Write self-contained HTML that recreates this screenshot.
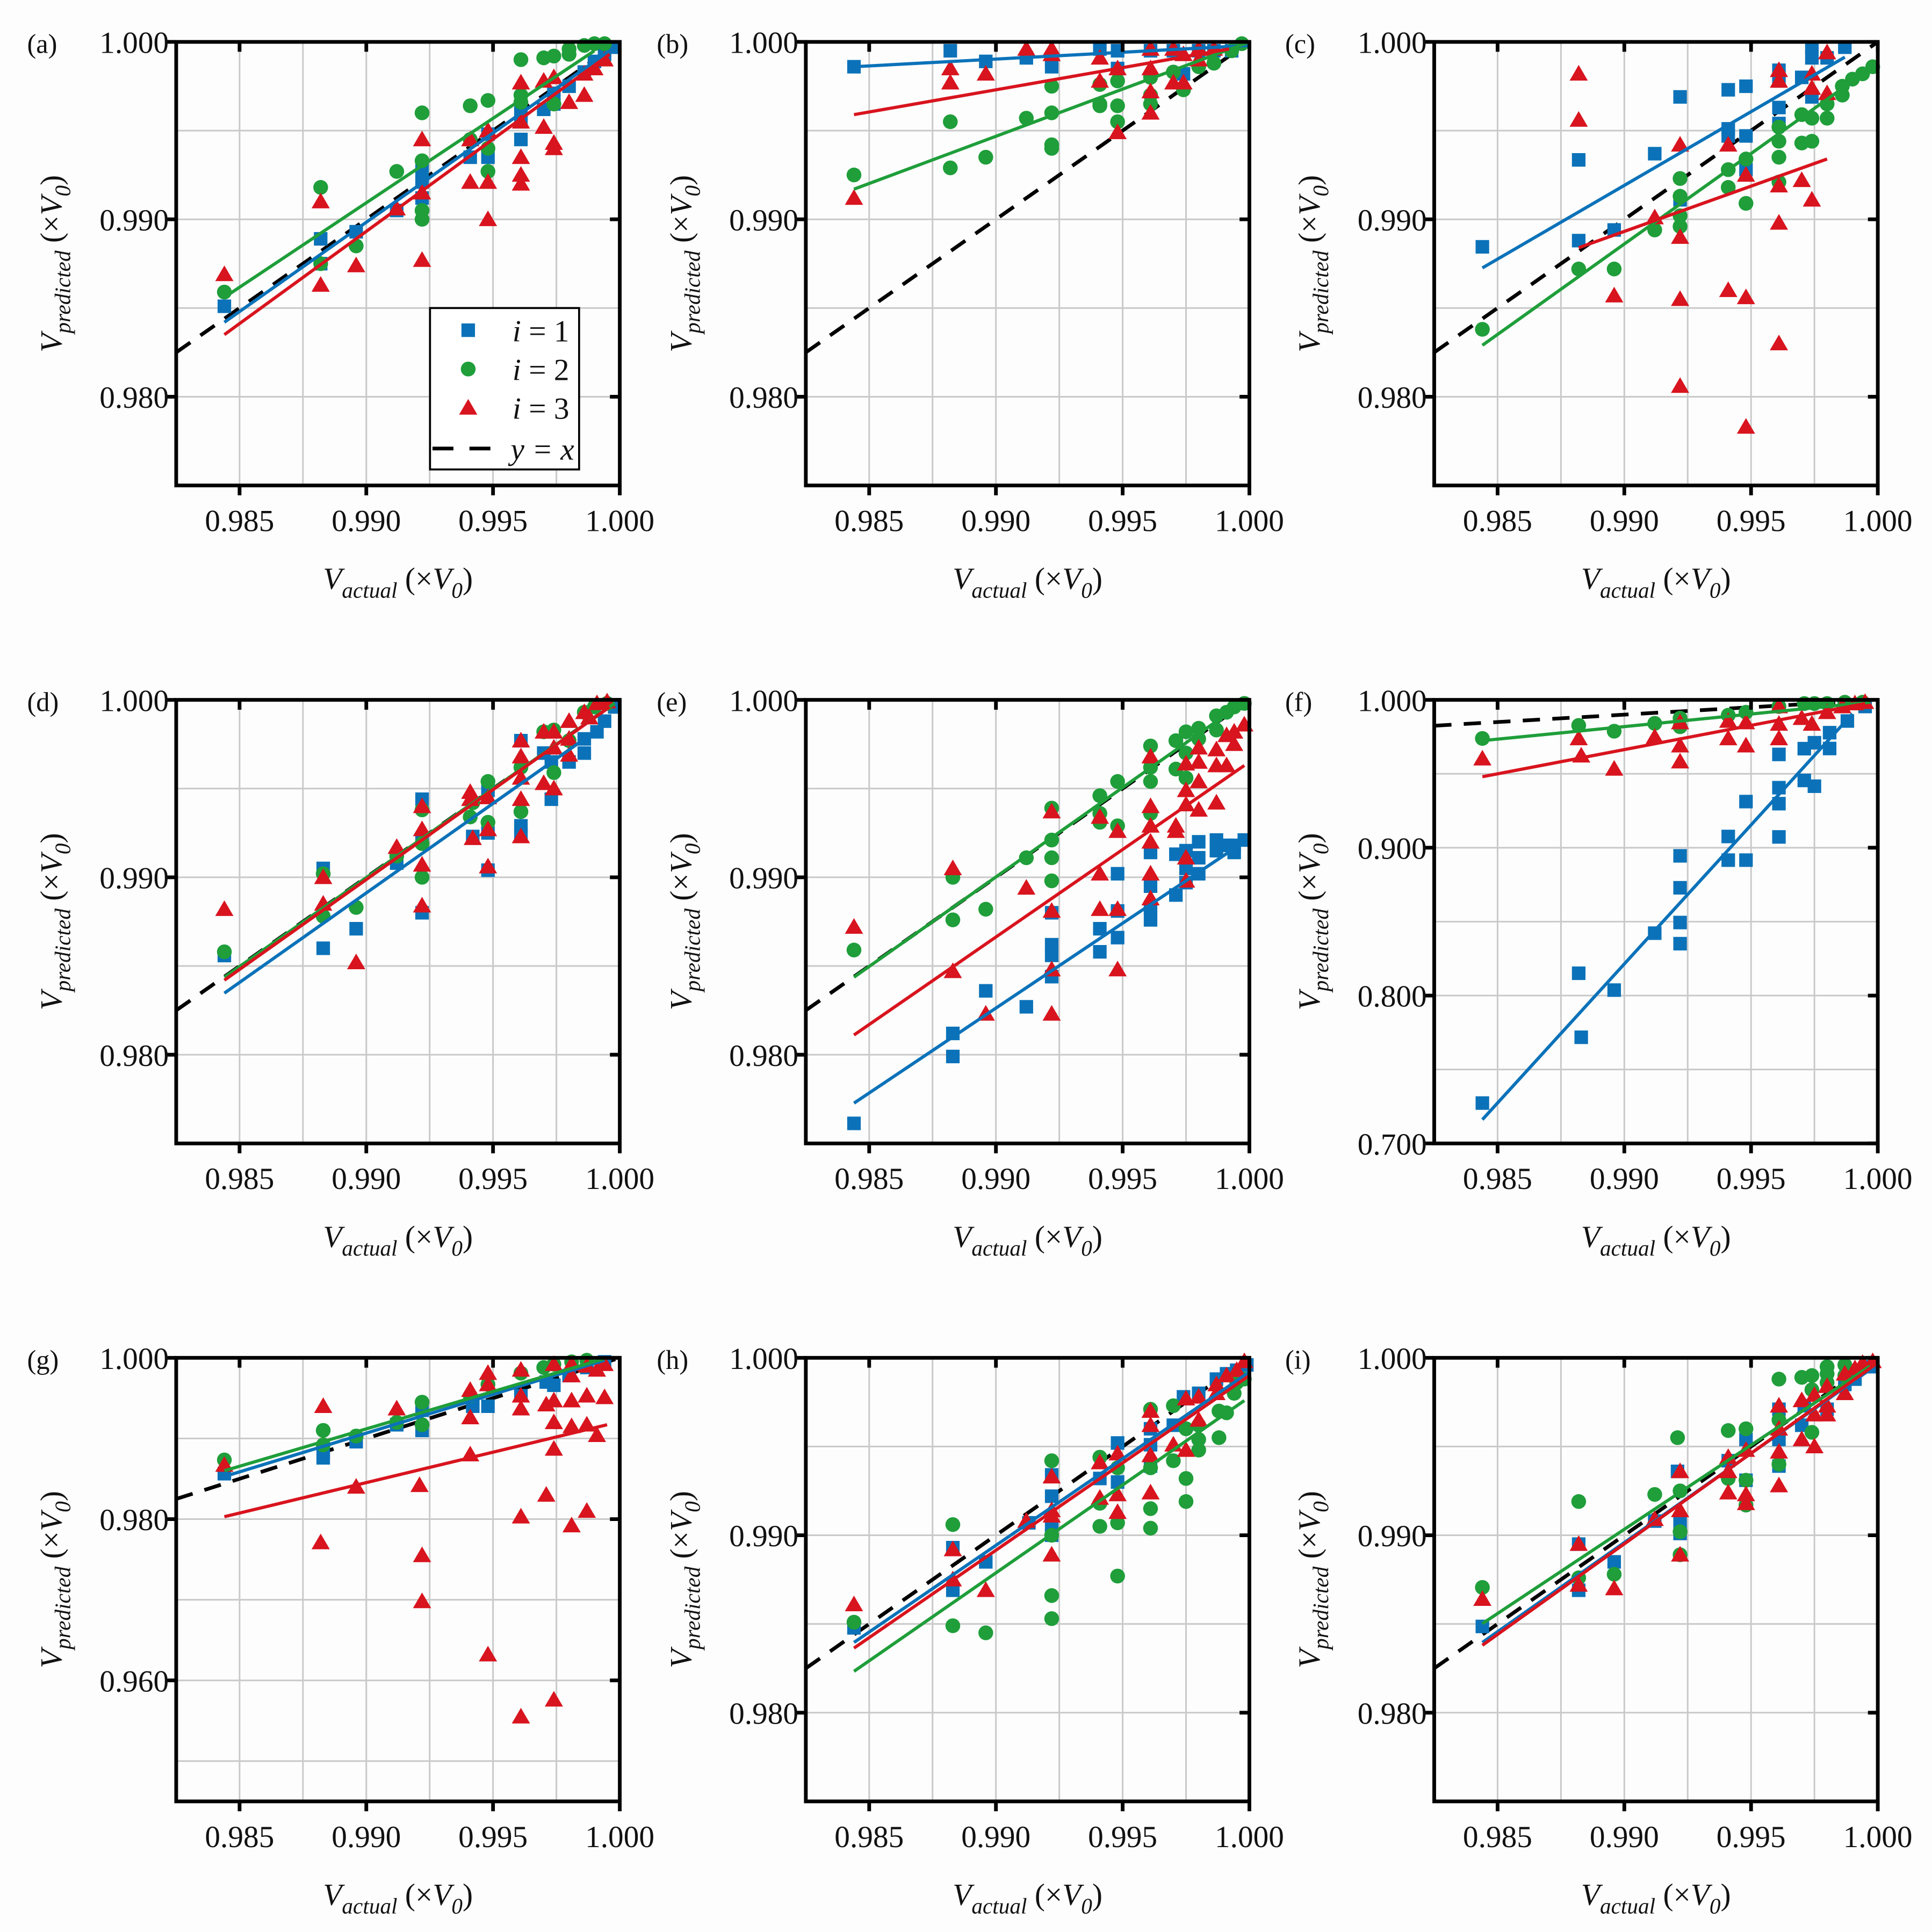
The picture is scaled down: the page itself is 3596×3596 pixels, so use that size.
<!DOCTYPE html>
<html><head><meta charset="utf-8">
<style>
html,body{margin:0;padding:0;background:#fdfdfd;}
svg{display:block;}
text{font-family:"Liberation Serif","DejaVu Serif",serif;fill:#111;}
</style></head>
<body>
<svg id="fig" width="3596" height="3596" viewBox="0 0 1568 1568" xmlns="http://www.w3.org/2000/svg">
<rect x="0" y="0" width="1568" height="1568" fill="#fdfdfd"/>
</svg>
<script>
// ---------- DATA ----------
const xTickLabels = ["0.985","0.990","0.995","1.000"];
const xTicks = [0.985,0.990,0.995,1.000];
const xGrid = [0.985,0.9875,0.990,0.9925,0.995,0.9975];
const panelLetters = ["a","b","c","d","e","f","g","h","i"];

const aBlue=[[0.9844,0.9851],[0.9882,0.9889],[0.9882,0.9875],[0.9896,0.9893],[0.9912,0.9905],[0.9922,0.9928],[0.9922,0.9921],[0.9922,0.9912],[0.9941,0.9935],[0.9948,0.9948],[0.9948,0.9935],[0.9961,0.9960],[0.9961,0.9945],[0.9961,0.9955],[0.9970,0.9962],[0.9974,0.9971],[0.9974,0.9965],[0.9980,0.9975],[0.9986,0.9983],[0.9990,0.9989],[0.9994,0.9993],[0.9998,0.9997]];
const aGreen=[[0.9844,0.9859],[0.9882,0.9918],[0.9882,0.9875],[0.9896,0.9885],[0.9912,0.9927],[0.9922,0.9960],[0.9922,0.9933],[0.9922,0.9905],[0.9922,0.9900],[0.9941,0.9964],[0.9941,0.9945],[0.9948,0.9967],[0.9948,0.9940],[0.9948,0.9927],[0.9961,0.9990],[0.9961,0.9970],[0.9961,0.9966],[0.9970,0.9991],[0.9974,0.9992],[0.9974,0.9965],[0.9980,0.9996],[0.9980,0.9993],[0.9986,0.9998],[0.9990,0.9999],[0.9994,0.9999]];
const aRed=[[0.9844,0.9869],[0.9882,0.9910],[0.9882,0.9863],[0.9896,0.9874],[0.9912,0.9906],[0.9922,0.9945],[0.9922,0.9915],[0.9922,0.9877],[0.9941,0.9921],[0.9941,0.9945],[0.9948,0.9921],[0.9948,0.9900],[0.9948,0.9950],[0.9961,0.9977],[0.9961,0.9955],[0.9961,0.9935],[0.9961,0.9925],[0.9961,0.9920],[0.9970,0.9952],[0.9970,0.9978],[0.9974,0.9943],[0.9974,0.9940],[0.9974,0.9980],[0.9980,0.9966],[0.9986,0.9970],[0.9986,0.9982],[0.9990,0.9985],[0.9994,0.9990]];
const aFitBlue=[0.9844,0.9842,0.9998,0.9997];
const aFitGreen=[0.9844,0.9856,0.9990,0.9995];
const aFitRed=[0.9844,0.9835,0.9996,0.9993];

const bBlue=[[0.9844,0.9986],[0.9882,0.9995],[0.9896,0.9989],[0.9912,0.9991],[0.9922,0.9989],[0.9922,0.9986],[0.9941,0.9996],[0.9948,0.9995],[0.9948,0.9985],[0.9961,0.9995],[0.9970,0.9995],[0.9974,0.9982],[0.9980,0.9995],[0.9986,0.9995],[0.9993,0.9995]];
const bGreen=[[0.9844,0.9925],[0.9882,0.9955],[0.9882,0.9929],[0.9896,0.9935],[0.9912,0.9957],[0.9922,0.9975],[0.9922,0.9960],[0.9922,0.9942],[0.9922,0.9940],[0.9941,0.9976],[0.9941,0.9965],[0.9941,0.9964],[0.9948,0.9978],[0.9948,0.9964],[0.9948,0.9955],[0.9961,0.9980],[0.9961,0.9970],[0.9961,0.9965],[0.9970,0.9983],[0.9974,0.9973],[0.9980,0.9986],[0.9986,0.9988],[0.9993,0.9995],[0.9997,0.9999]];
const bRed=[[0.9844,0.9912],[0.9882,0.9985],[0.9882,0.9977],[0.9896,0.9982],[0.9912,0.9996],[0.9922,0.9996],[0.9922,0.9993],[0.9941,0.9991],[0.9941,0.9978],[0.9948,0.9985],[0.9948,0.9949],[0.9961,0.9996],[0.9961,0.9985],[0.9961,0.9972],[0.9961,0.9960],[0.9970,0.9996],[0.9970,0.9977],[0.9974,0.9993],[0.9974,0.9977],[0.9980,0.9996],[0.9980,0.9990],[0.9986,0.9996]];
const bFitBlue=[0.9844,0.9986,1.0000,0.9998];
const bFitGreen=[0.9844,0.9917,1.0000,1.0000];
const bFitRed=[0.9844,0.9959,0.9992,0.9996];

const cBlue=[[0.9844,0.98845],[0.9882,0.99335],[0.9882,0.9888],[0.9896,0.9894],[0.9912,0.9937],[0.9922,0.9969],[0.9922,0.9911],[0.9941,0.9973],[0.9941,0.9951],[0.9941,0.9947],[0.9948,0.9975],[0.9948,0.9947],[0.9948,0.9928],[0.9961,0.9984],[0.9961,0.9978],[0.9961,0.9963],[0.9961,0.9954],[0.9970,0.9980],[0.9974,0.9997],[0.9974,0.9991],[0.9974,0.9969],[0.9980,0.9991],[0.9987,0.9997]];
const cGreen=[[0.9844,0.9838],[0.9882,0.9872],[0.9896,0.9872],[0.9912,0.9894],[0.9922,0.9923],[0.9922,0.9913],[0.9922,0.9902],[0.9922,0.9896],[0.9941,0.9928],[0.9941,0.9918],[0.9948,0.9934],[0.9948,0.9909],[0.9961,0.9952],[0.9961,0.9944],[0.9961,0.9935],[0.9961,0.9921],[0.9970,0.9959],[0.9970,0.9943],[0.9974,0.9957],[0.9974,0.9944],[0.9980,0.9965],[0.9980,0.9957],[0.9986,0.9975],[0.9986,0.9970],[0.9990,0.9979],[0.9994,0.9982],[0.9998,0.9986]];
const cRed=[[0.9882,0.9982],[0.9882,0.9956],[0.9896,0.9857],[0.9912,0.9901],[0.9922,0.9942],[0.9922,0.9890],[0.9922,0.9855],[0.9922,0.9806],[0.9941,0.9942],[0.9941,0.9860],[0.9948,0.9925],[0.9948,0.9856],[0.9948,0.9783],[0.9961,0.9984],[0.9961,0.9978],[0.9961,0.9919],[0.9961,0.9898],[0.9961,0.9830],[0.9970,0.9922],[0.9974,0.9982],[0.9974,0.9974],[0.9974,0.9911],[0.9980,0.9994],[0.9980,0.9971]];
const cFitBlue=[0.9844,0.98726,0.9987,0.99914];
const cFitGreen=[0.9844,0.9829,0.9998,0.9986];
const cFitRed=[0.9882,0.9884,0.9980,0.9934];

const dBlue=[[0.9844,0.98559],[0.9883,0.9905],[0.9883,0.9860],[0.9896,0.9871],[0.9912,0.9908],[0.9922,0.9944],[0.9922,0.9921],[0.9922,0.9880],[0.9942,0.9923],[0.9948,0.9949],[0.9948,0.9925],[0.9948,0.9904],[0.9961,0.9929],[0.9961,0.9924],[0.9961,0.9977],[0.9970,0.9970],[0.9973,0.9944],[0.9973,0.9965],[0.9980,0.9965],[0.9986,0.9970],[0.9986,0.9978],[0.9991,0.9982],[0.9994,0.9988],[0.9998,0.9996]];
const dGreen=[[0.9844,0.9858],[0.9883,0.9902],[0.9883,0.9878],[0.9896,0.9883],[0.9912,0.9912],[0.9922,0.9938],[0.9922,0.9919],[0.9922,0.9900],[0.9942,0.9942],[0.9941,0.9934],[0.9948,0.9954],[0.9948,0.9931],[0.9961,0.9962],[0.9961,0.9937],[0.9970,0.9982],[0.9974,0.9983],[0.9974,0.9959],[0.9980,0.9977],[0.9986,0.9993],[0.9990,0.9996],[0.9995,0.9998]];
const dRed=[[0.9844,0.9882],[0.9883,0.9900],[0.9883,0.9885],[0.9896,0.9852],[0.9912,0.9917],[0.9922,0.9940],[0.9922,0.9927],[0.9922,0.9907],[0.9922,0.9884],[0.9941,0.9948],[0.9941,0.9944],[0.9942,0.9922],[0.9948,0.9945],[0.9948,0.9927],[0.9948,0.9906],[0.9961,0.9977],[0.9961,0.9968],[0.9961,0.9956],[0.9961,0.9944],[0.9961,0.9923],[0.9970,0.9982],[0.9970,0.9953],[0.9974,0.9982],[0.9974,0.9973],[0.9974,0.9950],[0.9980,0.9988],[0.9980,0.9978],[0.9980,0.9969],[0.9986,0.9993],[0.9988,0.9990],[0.9991,0.9998],[0.9995,0.9999]];
const dFitBlue=[0.9844,0.98347,0.9995,0.9987];
const dFitGreen=[0.9844,0.98437,0.9998,0.9998];
const dFitRed=[0.9844,0.9842,0.9996,0.9996];

const eBlue=[[0.9844,0.97613],[0.9883,0.9812],[0.9883,0.9799],[0.9896,0.9836],[0.9912,0.9827],[0.9922,0.9880],[0.9922,0.9862],[0.9922,0.9856],[0.9922,0.9844],[0.9941,0.9871],[0.9941,0.9858],[0.9948,0.9902],[0.9948,0.9881],[0.9948,0.9866],[0.9961,0.9914],[0.9961,0.9895],[0.9961,0.9883],[0.9961,0.9876],[0.9971,0.9913],[0.9971,0.9890],[0.9975,0.9915],[0.9975,0.9905],[0.9975,0.9897],[0.9980,0.9920],[0.9980,0.9911],[0.9980,0.9902],[0.9987,0.9921],[0.9987,0.9915],[0.9991,0.9918],[0.9994,0.9918],[0.9994,0.9914],[0.9998,0.9921]];
const eGreen=[[0.9844,0.9859],[0.9883,0.9900],[0.9883,0.9876],[0.9896,0.9882],[0.9912,0.9911],[0.9922,0.9939],[0.9922,0.9921],[0.9922,0.9911],[0.9922,0.9898],[0.9941,0.9946],[0.9941,0.9936],[0.9941,0.9931],[0.9948,0.9954],[0.9948,0.9929],[0.9961,0.9974],[0.9961,0.9962],[0.9961,0.9954],[0.9961,0.9936],[0.9971,0.9977],[0.9971,0.9961],[0.9975,0.9982],[0.9975,0.9970],[0.9975,0.9956],[0.9980,0.9984],[0.9980,0.9978],[0.9987,0.9991],[0.9987,0.9983],[0.9991,0.9993],[0.9994,0.9996],[0.9998,0.9998]];
const eRed=[[0.9844,0.9872],[0.9883,0.9905],[0.9883,0.9847],[0.9896,0.9823],[0.9912,0.9894],[0.9922,0.9937],[0.9922,0.9881],[0.9922,0.9848],[0.9922,0.9823],[0.9941,0.9934],[0.9941,0.9902],[0.9941,0.9882],[0.9948,0.9926],[0.9948,0.9882],[0.9948,0.9848],[0.9961,0.9968],[0.9961,0.9940],[0.9961,0.9929],[0.9961,0.9920],[0.9961,0.9902],[0.9961,0.9888],[0.9971,0.9929],[0.9971,0.9926],[0.9975,0.9964],[0.9975,0.9949],[0.9975,0.9941],[0.9975,0.9911],[0.9975,0.9898],[0.9980,0.9973],[0.9980,0.9965],[0.9980,0.9954],[0.9980,0.9938],[0.9987,0.9972],[0.9987,0.9963],[0.9987,0.9942],[0.9991,0.9980],[0.9991,0.9963],[0.9994,0.9982],[0.9994,0.9975],[0.9998,0.9986]];
const eFitBlue=[0.9844,0.97727,0.9999,0.9921];
const eFitGreen=[0.9844,0.98437,0.9999,1.0000];
const eFitRed=[0.9844,0.98111,0.9998,0.9963];

const fBlue=[[0.9844,0.7273],[0.9882,0.8151],[0.9883,0.7718],[0.9896,0.8037],[0.9912,0.8422],[0.9922,0.8945],[0.9922,0.8729],[0.9922,0.8494],[0.9922,0.8351],[0.9941,0.9076],[0.9941,0.8916],[0.9948,0.9312],[0.9948,0.8916],[0.9961,0.9631],[0.9961,0.9406],[0.9961,0.9298],[0.9961,0.9073],[0.9971,0.9670],[0.9971,0.9455],[0.9975,0.9710],[0.9975,0.9416],[0.9981,0.9778],[0.9981,0.9671],[0.9988,0.9857],[0.9995,0.9955]];
const fGreen=[[0.9844,0.9739],[0.9882,0.9827],[0.9896,0.9788],[0.9912,0.9841],[0.9922,0.9876],[0.9922,0.9818],[0.9941,0.9896],[0.9948,0.9916],[0.9961,0.9955],[0.9971,0.9975],[0.9975,0.9975],[0.9980,0.9975],[0.9987,0.9984],[0.9994,0.9984]];
const fRed=[[0.9844,0.9602],[0.9882,0.9739],[0.9883,0.9622],[0.9896,0.9533],[0.9912,0.9749],[0.9922,0.9847],[0.9922,0.9690],[0.9922,0.9582],[0.9941,0.9857],[0.9941,0.9739],[0.9948,0.9847],[0.9948,0.9690],[0.9961,0.9955],[0.9961,0.9837],[0.9961,0.9739],[0.9970,0.9876],[0.9974,0.9837],[0.9980,0.9916],[0.9986,0.9955],[0.9991,0.9975],[0.9995,0.9984]];
const fFitBlue=[0.9844,0.7161,0.9990,0.9906];
const fFitGreen=[0.9844,0.9724,0.9997,0.9984];
const fFitRed=[0.9844,0.9480,0.9995,0.9975];

const gBlue=[[0.9844,0.98563],[0.9883,0.9883],[0.9883,0.9876],[0.9896,0.9896],[0.9912,0.9917],[0.9922,0.9910],[0.9922,0.9935],[0.9942,0.9940],[0.9948,0.9940],[0.9961,0.9953],[0.9971,0.9970],[0.9974,0.9966],[0.9980,0.9978],[0.9987,0.9988],[0.9994,0.9995]];
const gGreen=[[0.9844,0.98734],[0.9883,0.9910],[0.9883,0.9892],[0.9896,0.9903],[0.9912,0.9920],[0.9922,0.9945],[0.9922,0.9917],[0.9941,0.9953],[0.9948,0.9967],[0.9961,0.9981],[0.9970,0.9988],[0.9974,0.9992],[0.9981,0.9995],[0.9987,0.9997]];
const gRed=[[0.9844,0.9867],[0.9883,0.9940],[0.9882,0.9771],[0.9896,0.9840],[0.9912,0.9937],[0.9921,0.9842],[0.9922,0.9755],[0.9922,0.9698],[0.9941,0.9960],[0.9941,0.9926],[0.9941,0.9880],[0.9948,0.9981],[0.9948,0.9967],[0.9948,0.9632],[0.9961,0.9985],[0.9961,0.9953],[0.9961,0.9937],[0.9961,0.9803],[0.9961,0.9555],[0.9971,0.9942],[0.9971,0.9830],[0.9974,0.9992],[0.9974,0.9947],[0.9974,0.9920],[0.9974,0.9887],[0.9974,0.9576],[0.9981,0.9992],[0.9981,0.9978],[0.9981,0.9947],[0.9981,0.9915],[0.9981,0.9792],[0.9987,0.9990],[0.9987,0.9953],[0.9987,0.9917],[0.9987,0.9810],[0.9991,0.9985],[0.9991,0.9904],[0.9994,0.9992],[0.9994,0.9951]];
const gFitBlue=[0.9844,0.98528,0.9994,0.9997];
const gFitGreen=[0.9844,0.9860,0.9994,0.9999];
const gFitRed=[0.9844,0.9803,0.9995,0.9917];

const hBlue=[[0.9844,0.98478],[0.9883,0.9893],[0.9883,0.9869],[0.9896,0.9885],[0.9913,0.9907],[0.9922,0.9934],[0.9922,0.9922],[0.9922,0.9905],[0.9922,0.9900],[0.9941,0.9932],[0.9948,0.9952],[0.9948,0.9930],[0.9961,0.9960],[0.9961,0.9951],[0.9961,0.9939],[0.9970,0.9962],[0.9974,0.9978],[0.9980,0.9980],[0.9987,0.9988],[0.9991,0.9991],[0.9995,0.9993],[0.9999,0.9996]];
const hGreen=[[0.9844,0.9851],[0.9883,0.9906],[0.9883,0.9849],[0.9896,0.9845],[0.9922,0.9942],[0.9922,0.9900],[0.9922,0.9866],[0.9922,0.9853],[0.9941,0.9944],[0.9941,0.9918],[0.9941,0.9905],[0.9948,0.9938],[0.9948,0.9907],[0.9948,0.9877],[0.9961,0.9971],[0.9961,0.9938],[0.9961,0.9915],[0.9961,0.9904],[0.9970,0.9973],[0.9970,0.9942],[0.9975,0.9960],[0.9975,0.9932],[0.9975,0.9919],[0.9980,0.9962],[0.9980,0.9954],[0.9980,0.9948],[0.9988,0.9970],[0.9988,0.9955],[0.9991,0.9969],[0.9994,0.9980],[0.9995,0.9986],[0.9998,0.9988]];
const hRed=[[0.9844,0.9861],[0.9883,0.9892],[0.9883,0.9875],[0.9896,0.9869],[0.9912,0.9908],[0.9922,0.9933],[0.9922,0.9914],[0.9922,0.9911],[0.9922,0.9889],[0.9941,0.9941],[0.9941,0.9921],[0.9948,0.9946],[0.9948,0.9923],[0.9948,0.9913],[0.9961,0.9970],[0.9961,0.9962],[0.9961,0.9945],[0.9961,0.9924],[0.9970,0.9951],[0.9975,0.9977],[0.9975,0.9948],[0.9980,0.9978],[0.9980,0.9965],[0.9987,0.9985],[0.9987,0.9980],[0.9991,0.9990],[0.9995,0.9993],[0.9998,0.9998]];
const hFitBlue=[0.9844,0.98396,1.0000,0.9992];
const hFitGreen=[0.9844,0.98233,0.9998,0.99759];
const hFitRed=[0.9844,0.98364,1.0000,0.9990];

const iBlue=[[0.9844,0.98486],[0.9882,0.9895],[0.9882,0.9869],[0.9896,0.9885],[0.9912,0.9908],[0.9921,0.9936],[0.9922,0.9907],[0.9922,0.9901],[0.9941,0.9942],[0.9948,0.9954],[0.9948,0.9931],[0.9961,0.9971],[0.9961,0.9954],[0.9961,0.9939],[0.9970,0.9962],[0.9971,0.9973],[0.9980,0.9971],[0.9987,0.9985],[0.9991,0.9988],[0.9998,0.9995]];
const iGreen=[[0.9844,0.98706],[0.9882,0.9919],[0.9882,0.9876],[0.9896,0.9878],[0.9912,0.9923],[0.9921,0.9955],[0.9922,0.9925],[0.9922,0.9902],[0.9922,0.9889],[0.9941,0.9959],[0.9941,0.9932],[0.9948,0.9960],[0.9948,0.9931],[0.9948,0.9917],[0.9961,0.9988],[0.9961,0.9965],[0.9961,0.9940],[0.9970,0.9989],[0.9974,0.9990],[0.9974,0.9982],[0.9974,0.9958],[0.9980,0.9995],[0.9980,0.9991],[0.9980,0.9986],[0.9987,0.9996],[0.9987,0.9990]];
const iRed=[[0.9844,0.9864],[0.9882,0.9895],[0.9882,0.9872],[0.9896,0.9870],[0.9912,0.9909],[0.9922,0.9936],[0.9922,0.9914],[0.9922,0.9889],[0.9941,0.9944],[0.9941,0.9936],[0.9941,0.9924],[0.9948,0.9948],[0.9948,0.9923],[0.9948,0.9918],[0.9961,0.9973],[0.9961,0.9960],[0.9961,0.9947],[0.9961,0.9928],[0.9970,0.9976],[0.9970,0.9954],[0.9975,0.9979],[0.9975,0.9968],[0.9975,0.9950],[0.9980,0.9984],[0.9980,0.9973],[0.9980,0.9968],[0.9987,0.9991],[0.9987,0.9980],[0.9991,0.9994],[0.9994,0.9997],[0.9998,0.9998]];
const iFitBlue=[0.9844,0.98396,0.9999,0.99954];
const iFitGreen=[0.9844,0.98502,0.9997,0.99954];
const iFitRed=[0.9844,0.9838,0.9999,0.99962];

const panelSeries = {
 a:[aBlue,aGreen,aRed], b:[bBlue,bGreen,bRed], c:[cBlue,cGreen,cRed],
 d:[dBlue,dGreen,dRed], e:[eBlue,eGreen,eRed], f:[fBlue,fGreen,fRed],
 g:[gBlue,gGreen,gRed], h:[hBlue,hGreen,hRed], i:[iBlue,iGreen,iRed]};
const panelFits = {
 a:[aFitBlue,aFitGreen,aFitRed], b:[bFitBlue,bFitGreen,bFitRed], c:[cFitBlue,cFitGreen,cFitRed],
 d:[dFitBlue,dFitGreen,dFitRed], e:[eFitBlue,eFitGreen,eFitRed], f:[fFitBlue,fFitGreen,fFitRed],
 g:[gFitBlue,gFitGreen,gFitRed], h:[hFitBlue,hFitGreen,hFitRed], i:[iFitBlue,iFitGreen,iFitRed]};
const stdY = {min:0.975,max:1.0,ticks:[0.980,0.990,1.000],labels:["0.980","0.990","1.000"],grid:[0.980,0.985,0.990,0.995]};
const fY = {min:0.7,max:1.0,ticks:[0.7,0.8,0.9,1.0],labels:["0.700","0.800","0.900","1.000"],grid:[0.75,0.8,0.85,0.9,0.95]};
const gY = {min:0.945,max:1.0,ticks:[0.96,0.98,1.0],labels:["0.960","0.980","1.000"],grid:[0.95,0.96,0.97,0.98,0.99]};
const panelY = {a:stdY,b:stdY,c:stdY,d:stdY,e:stdY,f:fY,g:gY,h:stdY,i:stdY};

// ---------- DRAW ----------
const NS="http://www.w3.org/2000/svg";
const svg=document.getElementById('fig');
const colors=["#0b72b9","#1f9e3a","#d8141e"];
const seriesNames=["i-1","i-2","i-3"];
const colLeft=[143,654,1164], rowTop=[34,568,1102], S=360;
const XMIN=0.9825, XMAX=1.0;
function mk(tag,attrs,parent){const e=document.createElementNS(NS,tag);for(const k in attrs)e.setAttribute(k,attrs[k]);(parent||svg).appendChild(e);return e;}

function axisTitle(g,x,y,sub,rotate){
  const t=mk('text',{x:x,y:y,'font-size':25,'text-anchor':'middle'},g);
  if(rotate) t.setAttribute('transform','rotate(-90 '+x+' '+y+')');
  const parts=[["V",0,25,true],[sub,7,18,true],[" (×",-7,25,false],["V",0,25,true],["0",7,18,true],[")",-7,25,false]];
  parts.forEach(p=>{const s=mk('tspan',{'font-size':p[2],dy:p[1]},t);if(p[3])s.setAttribute('font-style','italic');s.textContent=p[0];});
  return t;
}

panelLetters.forEach((L,idx)=>{
  const left=colLeft[idx%3], top=rowTop[Math.floor(idx/3)];
  const yc=panelY[L];
  const sx=v=>left+(v-XMIN)/(XMAX-XMIN)*S;
  const sy=v=>top+(yc.max-v)/(yc.max-yc.min)*S;
  const g=mk('g',{});
  
  
  const cp=mk('clipPath',{id:'clip-'+L},g);
  mk('rect',{x:left,y:top,width:S,height:S},cp);
  const grid=mk('g',{stroke:'#c9c9c9','stroke-width':1.3},g);
  
  
  xGrid.forEach(v=>mk('line',{x1:sx(v),x2:sx(v),y1:top,y2:top+S},grid));
  yc.grid.forEach(v=>mk('line',{x1:left,x2:left+S,y1:sy(v),y2:sy(v)},grid));
  const dl=mk('line',{x1:sx(XMIN),y1:sy(XMIN),x2:sx(1.0),y2:sy(1.0),stroke:'#000','stroke-width':3,'stroke-dasharray':'14 10','clip-path':'url(#clip-'+L+')'},g);
  
  
  panelSeries[L].forEach((pts,si)=>{
    const sg=mk('g',{fill:colors[si]},g);
    
    
    pts.forEach(p=>{
      const cx=sx(p[0]), cy=sy(p[1]);
      let m;
      if(si===0) m=mk('rect',{x:cx-5.5,y:cy-5.5,width:11,height:11},sg);
      else if(si===1) m=mk('circle',{cx:cx,cy:cy,r:6},sg);
      else m=mk('polygon',{points:(cx)+','+(cy-7.2)+' '+(cx-7.4)+','+(cy+5.5)+' '+(cx+7.4)+','+(cy+5.5)},sg);
      
      
    });
  });
  panelFits[L].forEach((f,si)=>{
    const fl=mk('line',{x1:sx(f[0]),y1:sy(f[1]),x2:sx(f[2]),y2:sy(f[3]),stroke:colors[si],'stroke-width':2.6,'clip-path':'url(#clip-'+L+')'},g);
    
    
  });
  const fr=mk('rect',{x:left,y:top,width:S,height:S,fill:'none',stroke:'#000','stroke-width':3},g);
  
  
  const tk=mk('g',{stroke:'#000','stroke-width':3},g);
  xTicks.forEach(v=>{mk('line',{x1:sx(v),x2:sx(v),y1:top+S,y2:top+S+8},tk);mk('line',{x1:sx(v),x2:sx(v),y1:top,y2:top+8},tk);});
  yc.ticks.forEach(v=>{mk('line',{x1:left-8,x2:left,y1:sy(v),y2:sy(v)},tk);mk('line',{x1:left+S-8,x2:left+S,y1:sy(v),y2:sy(v)},tk);});
  xTicks.forEach((v,k)=>{
    const t=mk('text',{x:sx(v),y:top+S+37,'font-size':25,'text-anchor':'middle'},g);
    
    
    t.textContent=xTickLabels[k];
  });
  yc.ticks.forEach((v,k)=>{
    const t=mk('text',{x:left-6,y:sy(v)+9,'font-size':25,'text-anchor':'end'},g);
    
    
    t.textContent=yc.labels[k];
  });
  const pl=mk('text',{x:left-121,y:top+9,'font-size':22},g);
  
  
  pl.textContent='('+L+')';
  const xt=axisTitle(g,left+180,top+S+84,'actual',false);
  
  
  const yt=axisTitle(g,left-93,top+180,'predicted',true);
  
  
});

const lg=mk('g',{});


mk('rect',{x:349,y:250,width:121,height:131,fill:'#fff',stroke:'#000','stroke-width':1.6},lg);
const legendLabels=["1","2","3"];
legendLabels.forEach((lab,k)=>{
  const cy=268+k*31.5;
  let m;
  if(k===0) m=mk('rect',{x:374.5,y:cy-5.5,width:11,height:11,fill:colors[0]},lg);
  else if(k===1) m=mk('circle',{cx:380,cy:cy,r:6,fill:colors[1]},lg);
  else m=mk('polygon',{points:'380,'+(cy-7.2)+' 372.6,'+(cy+5.5)+' 387.4,'+(cy+5.5),fill:colors[2]},lg);
  
  
  const t=mk('text',{x:462,y:cy+9,'font-size':25,'text-anchor':'end'},lg);
  
  
  const a=mk('tspan',{'font-style':'italic'},t);a.textContent='i';
  const b=mk('tspan',{},t);b.textContent=' = '+lab;
});
mk('line',{x1:351,y1:364,x2:402,y2:364,stroke:'#000','stroke-width':3,'stroke-dasharray':'17 13'},lg);
const yx=mk('text',{x:466,y:373,'font-size':25,'text-anchor':'end','font-style':'italic'},lg);


yx.textContent='y = x';
</script>
</body></html>
